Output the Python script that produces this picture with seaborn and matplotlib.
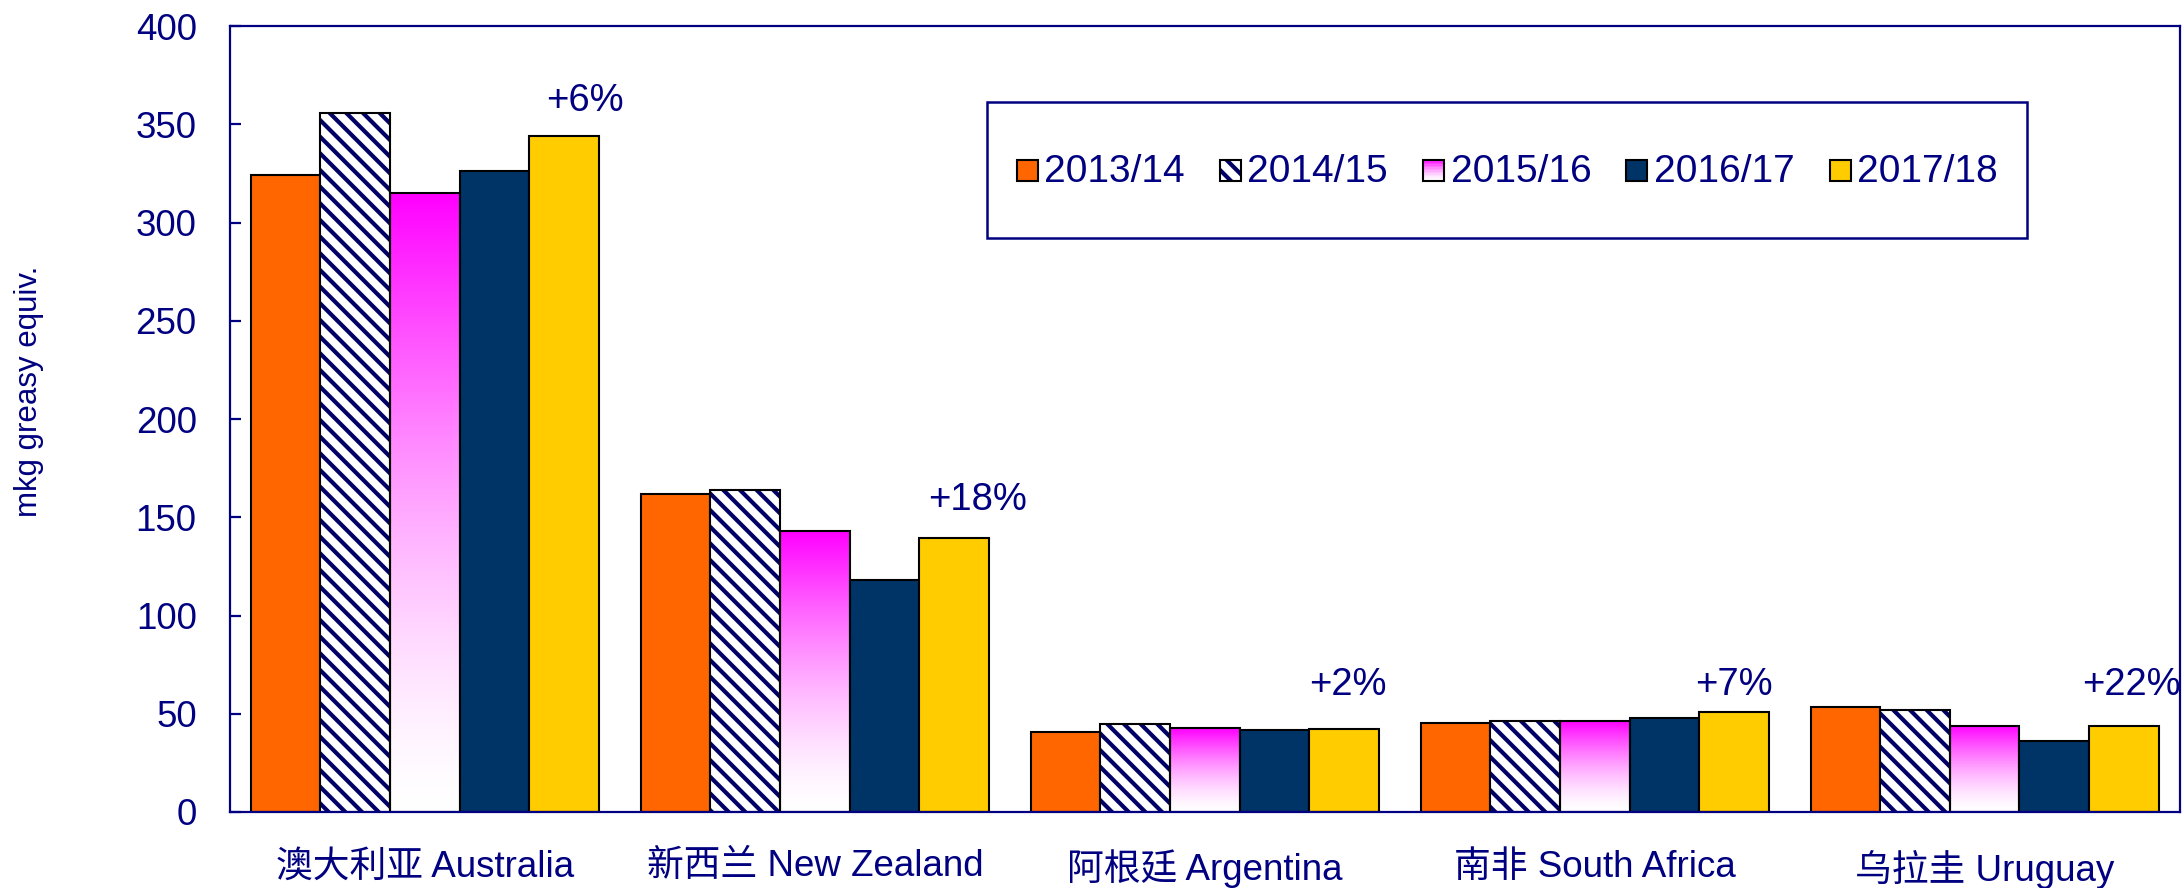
import numpy as np
import pandas as pd
import matplotlib
matplotlib.use("Agg")
import matplotlib.pyplot as plt
import seaborn as sns
from matplotlib.patches import Rectangle, Patch
from matplotlib.legend_handler import HandlerBase

# ---------------- data ----------------
countries = ["澳大利亚 Australia", "新西兰 New Zealand", "阿根廷 Argentina",
             "南非 South Africa", "乌拉圭 Uruguay"]
seasons = ["2013/14", "2014/15", "2015/16", "2016/17", "2017/18"]
v_2013_14 = [324, 162, 40.5, 45.5, 53.5]
v_2014_15 = [356, 164, 45, 46.5, 52]
v_2015_16 = [315, 143, 42.5, 46.5, 44]
v_2016_17 = [326, 118, 41.5, 48, 36]
v_2017_18 = [344, 139.5, 42, 51, 44]
changes = ["+6%", "+18%", "+2%", "+7%", "+22%"]
y_ticks = [0, 50, 100, 150, 200, 250, 300, 350, 400]
y_label = "mkg greasy equiv."

# ---------------- style ----------------
NAVY_TXT = "#000080"
C_ORANGE = "#FF6600"
C_NAVY = "#003366"
C_YELLOW = "#FFCC00"
HATCH_COL = "#000066"
palette = [C_ORANGE, "white", "white", C_NAVY, C_YELLOW]
kinds = ["solid", "hatch", "grad", "solid", "solid"]
ann_y = [362, 159, 64.5, 64.5, 64.5]
ann_dx = [0.052, 0.06, 0.01, 0.0, 0.02]

sns.set_style("white")
plt.rcParams["font.family"] = ["Liberation Sans", "Noto Sans CJK SC", "DejaVu Sans"]
plt.rcParams["hatch.linewidth"] = 3.0

series = [v_2013_14, v_2014_15, v_2015_16, v_2016_17, v_2017_18]
rows = []
for s, vals in zip(seasons, series):
    for c, v in zip(countries, vals):
        rows.append({"country": c, "season": s, "value": v})
df = pd.DataFrame(rows)

fig = plt.figure(figsize=(21.84, 8.88), dpi=100)
ax = fig.add_axes([0.1053, 0.0856, 0.8927, 0.885])

sns.barplot(data=df, x="country", y="value", hue="season", order=countries,
            hue_order=seasons, palette=palette, width=0.893, gap=0,
            saturation=1, edgecolor="black", linewidth=1.5, errorbar=None,
            legend=False, ax=ax)

ax.set_xlim(-0.5, len(countries) - 0.5)
ax.set_ylim(0, 400)


def grad_rgba(n=256):
    f = np.linspace(0, 1, n)
    g = 1 - f ** 1.5
    arr = np.ones((n, 1, 4))
    arr[:, 0, 1] = g
    return arr


# hatched bars (2014/15)
for p in ax.containers[1]:
    p.set_hatch("\\\\")
    p.set_edgecolor(HATCH_COL)
    p.set_linewidth(0)
    ax.add_patch(Rectangle(p.get_xy(), p.get_width(), p.get_height(),
                           fill=False, edgecolor="black", linewidth=1.5,
                           zorder=p.get_zorder() + 0.1))

# gradient bars (2015/16)
grad = grad_rgba()
for p in ax.containers[2]:
    x0, y0 = p.get_xy()
    w, h = p.get_width(), p.get_height()
    p.set_facecolor("none")
    im = ax.imshow(grad, extent=[x0, x0 + w, y0, y0 + h], origin="lower",
                   aspect="auto", zorder=p.get_zorder() - 0.1,
                   interpolation="bilinear")
    im.set_clip_path(p)

ax.set_xlim(-0.5, len(countries) - 0.5)
ax.set_ylim(0, 400)
ax.set_aspect("auto")

# annotations
for i, (txt, yy, dx) in enumerate(zip(changes, ann_y, ann_dx)):
    p = ax.containers[4][i]
    xc = p.get_x() + p.get_width() / 2 + dx
    ax.text(xc, yy, txt, ha="center", va="center", fontsize=27.5,
            color=NAVY_TXT, clip_on=False)

# axes styling
for sp in ax.spines.values():
    sp.set_visible(True)
    sp.set_color(NAVY_TXT)
    sp.set_linewidth(1.6)
ax.set_yticks(y_ticks)
ax.tick_params(axis="y", direction="in", length=8, width=1.6,
               color=NAVY_TXT, labelcolor=NAVY_TXT, labelsize=26.5, pad=24,
               left=True)
ax.tick_params(axis="x", length=0, labelcolor=NAVY_TXT, labelsize=26.5, pad=27)
ax.set_xlabel("")
ax.set_ylabel(y_label, fontsize=22.5, color=NAVY_TXT, va="center")
ax.yaxis.set_label_coords(-0.103, 0.535)


# legend
class SquareHandler(HandlerBase):
    def __init__(self, kind, color):
        super().__init__()
        self.kind = kind
        self.color = color

    def create_artists(self, legend, orig_handle, xdescent, ydescent,
                       width, height, fontsize, trans):
        s = width
        x0 = -xdescent
        y0 = -ydescent + (height - s) / 2
        arts = []
        if self.kind == "hatch":
            arts.append(Rectangle((x0, y0), s, s, facecolor="white",
                                  edgecolor=HATCH_COL, hatch="\\\\",
                                  linewidth=0, transform=trans))
        elif self.kind == "grad":
            n = 14
            for i in range(n):
                f = (i + 0.5) / n
                g = 1 - f ** 1.5
                arts.append(Rectangle((x0, y0 + s * i / n), s, s / n + 0.3,
                                      facecolor=(1, g, 1), edgecolor="none",
                                      transform=trans))
        else:
            arts.append(Rectangle((x0, y0), s, s, facecolor=self.color,
                                  edgecolor="none", transform=trans))
        arts.append(Rectangle((x0, y0), s, s, fill=False, edgecolor="black",
                              linewidth=1.5, transform=trans))
        return arts


proxies = [Patch(facecolor=c) for c in palette]
hmap = {h: SquareHandler(k, c) for h, k, c in zip(proxies, kinds, palette)}
leg = ax.legend(proxies, seasons, handler_map=hmap,
                ncol=5, loc="upper left", bbox_to_anchor=(0.3885, 0.903),
                fontsize=28, frameon=True, fancybox=False,
                handlelength=0.54, handleheight=2.7, handletextpad=0.17,
                borderpad=0.75, borderaxespad=0, columnspacing=0.9,
                labelcolor=NAVY_TXT)
fr = leg.get_frame()
fr.set_edgecolor(NAVY_TXT)
fr.set_linewidth(1.8)
fr.set_facecolor("white")
fr.set_alpha(1)

fig.savefig("out.png", dpi=100)
